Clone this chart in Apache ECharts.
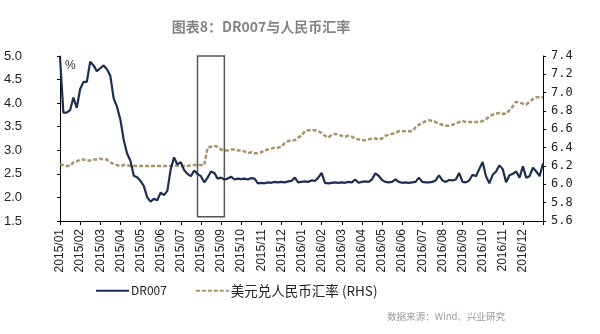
<!DOCTYPE html>
<html><head><meta charset="utf-8">
<script src="https://cdn.jsdelivr.net/npm/echarts@6/dist/echarts.min.js"></script>
<style>html,body{margin:0;padding:0;background:#fff}#c{width:600px;height:334px}</style>
</head><body><div id="c"></div>
<script>
const titleText = '图表8：DR007与人民币汇率';
const sourceText = '数据来源：Wind、兴业研究';
const months = ['2015/01','2015/02','2015/03','2015/04','2015/05','2015/06','2015/07','2015/08','2015/09','2015/10','2015/11','2015/12',
  '2016/01','2016/02','2016/03','2016/04','2016/05','2016/06','2016/07','2016/08','2016/09','2016/10','2016/11','2016/12'];
const pointsPerMonth = 6;
// DR007 (%), 6 readings per month + final point
const dr007 = [
  4.98,3.80,3.80,3.85,4.12,3.90,
  4.30,4.45,4.45,4.88,4.80,4.68,
  4.74,4.80,4.72,4.58,4.10,3.92,
  3.65,3.22,2.93,2.78,2.46,2.43,
  2.35,2.24,2.00,1.91,1.97,1.94,
  2.10,2.05,2.14,2.60,2.85,2.70,
  2.75,2.58,2.50,2.45,2.57,2.50,
  2.45,2.32,2.42,2.55,2.52,2.40,
  2.42,2.38,2.40,2.44,2.38,2.40,
  2.39,2.40,2.38,2.41,2.40,2.30,
  2.31,2.30,2.32,2.31,2.33,2.32,
  2.33,2.32,2.34,2.35,2.42,2.32,
  2.33,2.34,2.33,2.36,2.35,2.42,
  2.52,2.31,2.30,2.31,2.32,2.31,
  2.32,2.31,2.33,2.32,2.38,2.31,
  2.33,2.34,2.33,2.38,2.51,2.46,
  2.37,2.33,2.32,2.33,2.38,2.33,
  2.31,2.32,2.31,2.32,2.33,2.42,
  2.33,2.32,2.32,2.33,2.36,2.47,
  2.36,2.33,2.37,2.36,2.38,2.52,
  2.33,2.32,2.36,2.48,2.45,2.60,
  2.75,2.45,2.30,2.48,2.55,2.68,
  2.60,2.32,2.47,2.50,2.55,2.42,
  2.66,2.42,2.45,2.63,2.55,2.45,
  2.72
];
// USD/CNY (RHS)
const usdcny = [
  6.22,6.21,6.20,6.20,6.24,6.25,
  6.27,6.27,6.26,6.26,6.27,6.27,
  6.28,6.27,6.27,6.24,6.22,6.21,
  6.20,6.21,6.21,6.20,6.20,6.20,
  6.20,6.20,6.20,6.20,6.20,6.20,
  6.20,6.20,6.20,6.20,6.21,6.20,
  6.20,6.20,6.20,6.21,6.21,6.21,
  6.21,6.21,6.40,6.41,6.42,6.41,
  6.38,6.37,6.37,6.38,6.38,6.37,
  6.37,6.36,6.34,6.35,6.34,6.34,
  6.35,6.37,6.38,6.39,6.40,6.40,
  6.41,6.45,6.47,6.48,6.48,6.51,
  6.53,6.58,6.59,6.59,6.59,6.58,
  6.56,6.53,6.51,6.54,6.55,6.54,
  6.53,6.52,6.53,6.52,6.50,6.49,
  6.48,6.48,6.49,6.50,6.50,6.49,
  6.50,6.53,6.54,6.55,6.56,6.58,
  6.58,6.58,6.58,6.58,6.62,6.65,
  6.67,6.69,6.70,6.69,6.68,6.66,
  6.65,6.64,6.64,6.65,6.66,6.68,
  6.69,6.68,6.68,6.68,6.68,6.68,
  6.69,6.71,6.74,6.76,6.77,6.78,
  6.77,6.77,6.81,6.85,6.90,6.89,
  6.88,6.87,6.90,6.93,6.95,6.95,
  6.95
];
// highlighted window (category indices) and its vertical extent on the left axis
const boxX = [41, 49];
const boxY = [5.02, 1.59];

const categories = [];
months.forEach(m => { for (let k = 0; k < pointsPerMonth; k++) categories.push(k === 0 ? m : m + '#' + k); });
categories.push('end');
const lastIdx = categories.length - 1;
const isMonth = (i) => i % pointsPerMonth === 0 && i < lastIdx;

const chart = echarts.init(document.getElementById('c'), null, {renderer: 'canvas'});
const baseFont = 'Liberation Sans, Arial, sans-serif';
chart.setOption({
  animation: false,
  backgroundColor: '#fff',
  graphic: [
    {type: 'text', x: 261, y: 20, style: {text: titleText, textAlign: 'center', textVerticalAlign: 'top',
      font: 'bold 14px "Noto Sans CJK SC"', fill: '#858585'}},
    {type: 'text', x: 505, y: 312, style: {text: sourceText, textAlign: 'right', textVerticalAlign: 'top',
      font: '9.5px "Noto Sans CJK SC"', fill: '#9a9a9a'}},
    {type: 'text', x: 65, y: 60, style: {text: '%', font: '12px "Liberation Sans", Arial', fill: '#333'}}
  ],
  legend: {
    left: 90, top: 279, itemWidth: 33, itemHeight: 10, itemGap: 28,
    itemStyle: {opacity: 0},
    textStyle: {fontFamily: 'Noto Sans CJK SC', fontSize: 12.5, color: '#222', padding: [0, 0, 0, -3]},
    data: [
      {name: 'DR007', textStyle: {fontSize: 12}},
      {name: '美元兑人民币汇率 (RHS)', textStyle: {fontSize: 13.5}}
    ]
  },
  grid: {left: 60, right: 57, top: 56, height: 165, containLabel: false},
  xAxis: {
    type: 'category', data: categories, boundaryGap: false,
    axisLine: {lineStyle: {color: '#000', width: 1}},
    axisTick: {interval: (i) => i % pointsPerMonth === 0, length: 4, lineStyle: {color: '#000'}},
    axisLabel: {
      interval: (i) => isMonth(i), rotate: 90, margin: 8,
      fontFamily: baseFont, fontSize: 12, color: '#222',
      formatter: (v) => v.split('#')[0]
    },
    splitLine: {show: false}
  },
  yAxis: [
    {type: 'value', min: 1.5, max: 5.0, interval: 0.5, position: 'left',
     axisLine: {show: true, lineStyle: {color: '#000'}},
     axisTick: {show: true, length: 3, lineStyle: {color: '#000'}},
     axisLabel: {margin: 38, fontFamily: baseFont, fontSize: 13, color: '#222', formatter: (v) => v.toFixed(1)},
     splitLine: {show: false}},
    {type: 'value', min: 5.6, max: 7.4, interval: 0.2, position: 'right',
     axisLine: {show: true, lineStyle: {color: '#000'}},
     axisTick: {show: true, length: 3, lineStyle: {color: '#000'}},
     axisLabel: {margin: 8, fontFamily: 'DejaVu Sans Mono, monospace', fontSize: 12, color: '#222', formatter: (v) => v.toFixed(1)},
     splitLine: {show: false}}
  ],
  series: [
    {name: 'DR007', type: 'line', yAxisIndex: 0, data: dr007, symbol: 'none', clip: false, z: 3,
     lineStyle: {color: '#1c2f52', width: 2.2}, itemStyle: {color: '#1c2f52'},
     markArea: {silent: true, itemStyle: {color: 'rgba(0,0,0,0)', borderColor: '#555', borderWidth: 1.5},
       data: [[{xAxis: boxX[0], yAxis: boxY[0]}, {xAxis: boxX[1], yAxis: boxY[1]}]]}},
    {name: '美元兑人民币汇率 (RHS)', type: 'line', yAxisIndex: 1, data: usdcny, symbol: 'none', z: 2,
     lineStyle: {color: '#a8936a', width: 2.5, type: [4, 2]}, itemStyle: {color: '#a8936a'}}
  ]
});
</script></body></html>
